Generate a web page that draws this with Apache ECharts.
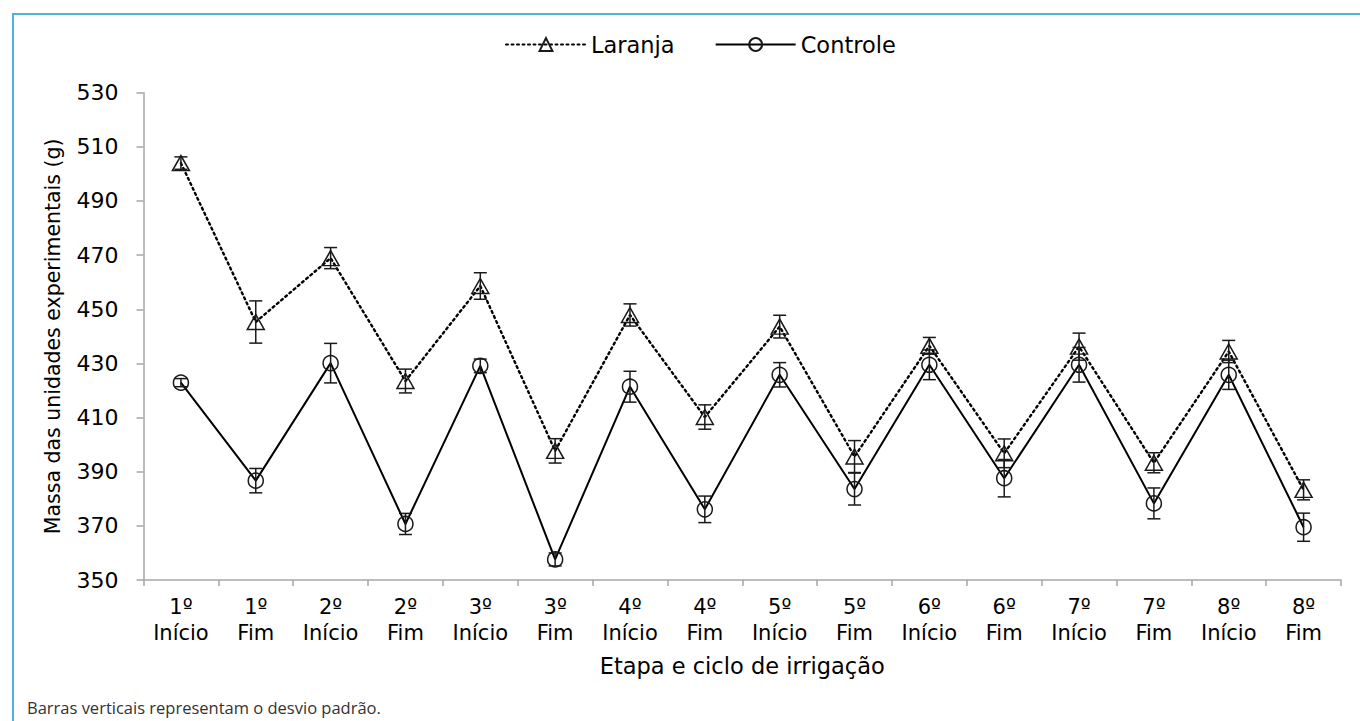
<!DOCTYPE html>
<html>
<head>
<meta charset="utf-8">
<script src="https://cdn.jsdelivr.net/npm/echarts@6/dist/echarts.min.js"></script>
<style>
html,body{margin:0;padding:0;background:#fff;}
#chart{width:1360px;height:721px;}
</style>
</head>
<body>
<div id="chart"></div>
<script>
const categories = ['1º\nInício','1º\nFim','2º\nInício','2º\nFim','3º\nInício','3º\nFim','4º\nInício','4º\nFim',
  '5º\nInício','5º\nFim','6º\nInício','6º\nFim','7º\nInício','7º\nFim','8º\nInício','8º\nFim'];
const laranja   = [504.0, 445.3, 468.9, 423.5, 458.6, 397.7, 447.9, 410.2, 443.6, 395.6, 436.5, 396.8, 436.2, 393.3, 434.4, 383.3];
const laranjaSD = [2.3, 7.8, 3.9, 4.4, 4.9, 4.5, 4.1, 4.5, 4.2, 5.9, 3.1, 5.3, 5.0, 3.7, 4.1, 3.7];
const controle   = [422.9, 386.7, 430.1, 370.7, 429.1, 357.6, 421.4, 376.1, 425.8, 383.6, 429.5, 387.6, 429.5, 378.3, 425.8, 369.5];
const controleSD = [1.5, 4.5, 7.3, 3.9, 2.5, 2.4, 5.7, 4.9, 4.5, 5.9, 5.5, 6.9, 6.4, 5.7, 5.4, 5.2];
const yTicks = {min: 350, max: 530, interval: 20};
const seriesNames = ['Laranja', 'Controle'];
const yName = 'Massa das unidades experimentais (g)';
const xName = 'Etapa e ciclo de irrigação';
const note = 'Barras verticais representam o desvio padrão.';

const FONT = 'DejaVu Sans';

function errData(vals, sd) {
  return vals.map((v, i) => [i, v - sd[i], v + sd[i]]);
}
function errRender(params, api) {
  const x = api.value(0);
  const lo = api.coord([x, api.value(1)]);
  const hi = api.coord([x, api.value(2)]);
  const half = 6.5;
  const style = {stroke: '#1a1a1a', lineWidth: 1.5, fill: null};
  return {
    type: 'group',
    children: [
      {type: 'line', shape: {x1: lo[0], y1: lo[1], x2: hi[0], y2: hi[1]}, style: style},
      {type: 'line', shape: {x1: lo[0] - half, y1: lo[1], x2: lo[0] + half, y2: lo[1]}, style: style},
      {type: 'line', shape: {x1: hi[0] - half, y1: hi[1], x2: hi[0] + half, y2: hi[1]}, style: style}
    ]
  };
}

const chart = echarts.init(document.getElementById('chart'), null, {renderer: 'svg'});
chart.setOption({
  animation: false,
  backgroundColor: '#fff',
  textStyle: {fontFamily: FONT, color: '#000'},
  legend: {
    data: seriesNames,
    left: 500,
    top: 28,
    itemWidth: 80,
    itemHeight: 16,
    itemGap: 40,
    textStyle: {fontFamily: FONT, fontSize: 22.5, color: '#000'}
  },
  grid: {left: 143.5, right: 19, top: 92.7, bottom: 141, containLabel: false, outerBoundsMode: 'none'},
  xAxis: {
    type: 'category',
    data: categories,
    boundaryGap: true,
    axisLine: {show: true, lineStyle: {color: '#a6a6a6', width: 1.5}},
    axisTick: {show: true, length: 6, lineStyle: {color: '#a6a6a6', width: 1.5}},
    axisLabel: {interval: 0, fontFamily: FONT, fontSize: 21, lineHeight: 26, color: '#000', margin: 14},
    splitLine: {show: false},
    name: xName,
    nameLocation: 'middle',
    nameGap: 74,
    nameTextStyle: {fontFamily: FONT, fontSize: 22.5, color: '#000'}
  },
  yAxis: {
    type: 'value',
    min: yTicks.min,
    max: yTicks.max,
    interval: yTicks.interval,
    axisLine: {show: true, lineStyle: {color: '#a6a6a6', width: 1.5}},
    axisTick: {show: true, length: 7, lineStyle: {color: '#a6a6a6', width: 1.5}},
    axisLabel: {fontFamily: FONT, fontSize: 22, color: '#000', margin: 25},
    splitLine: {show: false},
    name: yName,
    nameLocation: 'middle',
    nameGap: 80,
    nameTextStyle: {fontFamily: FONT, fontSize: 20.5, color: '#000'}
  },
  series: [
    {
      name: seriesNames[0],
      type: 'line',
      data: laranja,
      symbol: 'triangle',
      symbolSize: [17, 15],
      itemStyle: {color: 'rgba(0,0,0,0)', borderColor: '#1a1a1a', borderWidth: 1.5},
      lineStyle: {color: '#000', width: 2.4, type: [2, 3.5], cap: 'round'},
      z: 3
    },
    {
      name: seriesNames[1],
      type: 'line',
      data: controle,
      symbol: 'circle',
      symbolSize: 15,
      itemStyle: {color: 'rgba(0,0,0,0)', borderColor: '#1a1a1a', borderWidth: 1.5},
      lineStyle: {color: '#000', width: 2},
      z: 3
    },
    {
      type: 'custom',
      name: 'errL',
      data: errData(laranja, laranjaSD),
      encode: {x: 0, y: [1, 2]},
      renderItem: errRender,
      z: 4
    },
    {
      type: 'custom',
      name: 'errC',
      data: errData(controle, controleSD),
      encode: {x: 0, y: [1, 2]},
      renderItem: errRender,
      z: 4
    }
  ],
  graphic: [
    {type: 'line', shape: {x1: 12, y1: 14, x2: 1360, y2: 14}, style: {stroke: '#4ab6da', lineWidth: 2}},
    {type: 'line', shape: {x1: 13, y1: 13, x2: 13, y2: 721}, style: {stroke: '#4ab6da', lineWidth: 2}},
    {type: 'text', left: 27, top: 699, style: {text: note, fontFamily: 'Open Sans', fontSize: 16.5, fill: '#333'}}
  ]
});
</script>
</body>
</html>
